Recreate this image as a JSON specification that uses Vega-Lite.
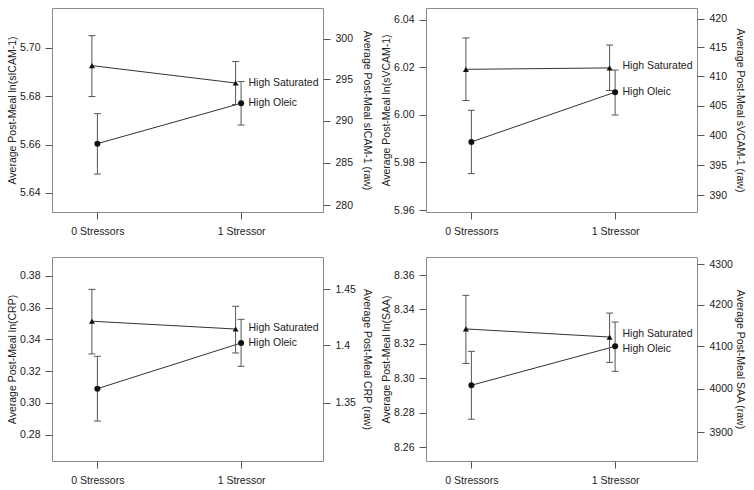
{
  "$schema": "https://vega.github.io/schema/vega-lite/v6.json",
  "background": "white",
  "padding": {"left": 7, "top": 7, "right": 0, "bottom": 0},
  "autosize": {"type": "pad"},
  "columns": 2,
  "spacing": {"row": 45, "column": 103},
  "bounds": "flush",
  "datasets": {
    "pts": [
      {"panel": "sICAM-1", "diet": "High Saturated", "stressors": 0, "mean": 5.6927, "lo": 5.6799, "hi": 5.7051},
      {"panel": "sICAM-1", "diet": "High Saturated", "stressors": 1, "mean": 5.6855, "lo": 5.6766, "hi": 5.6944},
      {"panel": "sICAM-1", "diet": "High Oleic", "stressors": 0, "mean": 5.6604, "lo": 5.6478, "hi": 5.6728},
      {"panel": "sICAM-1", "diet": "High Oleic", "stressors": 1, "mean": 5.6771, "lo": 5.6681, "hi": 5.6861},
      {"panel": "sVCAM-1", "diet": "High Saturated", "stressors": 0, "mean": 6.0191, "lo": 6.0060, "hi": 6.0323},
      {"panel": "sVCAM-1", "diet": "High Saturated", "stressors": 1, "mean": 6.0197, "lo": 6.0102, "hi": 6.0293},
      {"panel": "sVCAM-1", "diet": "High Oleic", "stressors": 0, "mean": 5.9886, "lo": 5.9753, "hi": 6.0019},
      {"panel": "sVCAM-1", "diet": "High Oleic", "stressors": 1, "mean": 6.0095, "lo": 5.9999, "hi": 6.0188},
      {"panel": "CRP", "diet": "High Saturated", "stressors": 0, "mean": 0.3515, "lo": 0.3309, "hi": 0.3716},
      {"panel": "CRP", "diet": "High Saturated", "stressors": 1, "mean": 0.3466, "lo": 0.3315, "hi": 0.3609},
      {"panel": "CRP", "diet": "High Oleic", "stressors": 0, "mean": 0.3090, "lo": 0.2886, "hi": 0.3294},
      {"panel": "CRP", "diet": "High Oleic", "stressors": 1, "mean": 0.3378, "lo": 0.3231, "hi": 0.3527},
      {"panel": "SAA", "diet": "High Saturated", "stressors": 0, "mean": 8.3287, "lo": 8.3087, "hi": 8.3482},
      {"panel": "SAA", "diet": "High Saturated", "stressors": 1, "mean": 8.3240, "lo": 8.3093, "hi": 8.3379},
      {"panel": "SAA", "diet": "High Oleic", "stressors": 0, "mean": 8.2960, "lo": 8.2763, "hi": 8.3157},
      {"panel": "SAA", "diet": "High Oleic", "stressors": 1, "mean": 8.3186, "lo": 8.3041, "hi": 8.3327}
    ],
    "labs": [
      {"panel": "sICAM-1", "diet": "High Saturated", "stressors": 1, "labely": 5.6855},
      {"panel": "sICAM-1", "diet": "High Oleic", "stressors": 1, "labely": 5.6774},
      {"panel": "sVCAM-1", "diet": "High Saturated", "stressors": 1, "labely": 6.0203},
      {"panel": "sVCAM-1", "diet": "High Oleic", "stressors": 1, "labely": 6.0096},
      {"panel": "CRP", "diet": "High Saturated", "stressors": 1, "labely": 0.3470},
      {"panel": "CRP", "diet": "High Oleic", "stressors": 1, "labely": 0.3380},
      {"panel": "SAA", "diet": "High Saturated", "stressors": 1, "labely": 8.3258},
      {"panel": "SAA", "diet": "High Oleic", "stressors": 1, "labely": 8.3169}
    ]
  },
  "concat": [
    {
      "width": 271, "height": 204,
      "resolve": {"scale": {"y": "independent"}, "axis": {"y": "independent"}},
      "layer": [
        {
          "encoding": {
            "x": {"field": "stressors", "type": "quantitative", "scale": {"domain": [-0.316, 1.57], "nice": false, "zero": false}, "axis": {"values": [0, 1], "labelExpr": "datum.value == 0 ? '0 Stressors' : '1 Stressor'", "title": null}},
            "y": {"field": "mean", "type": "quantitative", "scale": {"domain": [5.63209, 5.71656], "nice": false, "zero": false}, "axis": {"values": [5.64, 5.66, 5.68, 5.70], "format": ".2f", "title": "Average Post-Meal ln(sICAM-1)", "titlePadding": 2}}
          },
          "layer": [
            {"data": {"name": "pts"}, "transform": [{"filter": "datum.panel == 'sICAM-1' && datum.diet == 'High Oleic'"}],
             "layer": [
               {"mark": {"type": "rule"}, "encoding": {"y": {"field": "lo", "type": "quantitative"}, "y2": {"field": "hi"}}},
               {"mark": {"type": "tick", "orient": "horizontal"}, "encoding": {"y": {"field": "lo", "type": "quantitative"}}},
               {"mark": {"type": "tick", "orient": "horizontal"}, "encoding": {"y": {"field": "hi", "type": "quantitative"}}},
               {"mark": {"type": "line"}},
               {"mark": {"type": "point", "shape": "circle"}}
             ]},
            {"data": {"name": "pts"}, "transform": [{"filter": "datum.panel == 'sICAM-1' && datum.diet == 'High Saturated'"}],
             "layer": [
               {"mark": {"type": "rule", "xOffset": -5.5}, "encoding": {"y": {"field": "lo", "type": "quantitative"}, "y2": {"field": "hi"}}},
               {"mark": {"type": "tick", "orient": "horizontal", "xOffset": -5.5}, "encoding": {"y": {"field": "lo", "type": "quantitative"}}},
               {"mark": {"type": "tick", "orient": "horizontal", "xOffset": -5.5}, "encoding": {"y": {"field": "hi", "type": "quantitative"}}},
               {"mark": {"type": "line", "xOffset": -5.5}},
               {"mark": {"type": "point", "shape": "triangle-up", "xOffset": -5.5}}
             ]},
            {"data": {"name": "labs"}, "transform": [{"filter": "datum.panel == 'sICAM-1'"}],
             "mark": {"type": "text", "align": "left", "baseline": "middle", "dx": 7.4},
             "encoding": {"y": {"field": "labely", "type": "quantitative"}, "text": {"field": "diet", "type": "nominal"}}}
          ]
        },
        {
          "data": {"values": [{}]},
          "mark": {"type": "rule", "opacity": 0},
          "encoding": {"y": {"datum": 300, "type": "quantitative", "scale": {"type": "log", "domain": [279.24, 303.86], "nice": false}, "axis": {"orient": "right", "values": [280, 285, 290, 295, 300], "labelExpr": "format(datum.value, '~g')", "title": "Average Post-Meal sICAM-1 (raw)", "titlePadding": 9}}}
        }
      ]
    },
    {
      "width": 271, "height": 204,
      "resolve": {"scale": {"y": "independent"}, "axis": {"y": "independent"}},
      "layer": [
        {
          "encoding": {
            "x": {"field": "stressors", "type": "quantitative", "scale": {"domain": [-0.316, 1.57], "nice": false, "zero": false}, "axis": {"values": [0, 1], "labelExpr": "datum.value == 0 ? '0 Stressors' : '1 Stressor'", "title": null}},
            "y": {"field": "mean", "type": "quantitative", "scale": {"domain": [5.95916, 6.04487], "nice": false, "zero": false}, "axis": {"values": [5.96, 5.98, 6.00, 6.02, 6.04], "format": ".2f", "title": "Average Post-Meal ln(sVCAM-1)", "titlePadding": 2}}
          },
          "layer": [
            {"data": {"name": "pts"}, "transform": [{"filter": "datum.panel == 'sVCAM-1' && datum.diet == 'High Oleic'"}],
             "layer": [
               {"mark": {"type": "rule"}, "encoding": {"y": {"field": "lo", "type": "quantitative"}, "y2": {"field": "hi"}}},
               {"mark": {"type": "tick", "orient": "horizontal"}, "encoding": {"y": {"field": "lo", "type": "quantitative"}}},
               {"mark": {"type": "tick", "orient": "horizontal"}, "encoding": {"y": {"field": "hi", "type": "quantitative"}}},
               {"mark": {"type": "line"}},
               {"mark": {"type": "point", "shape": "circle"}}
             ]},
            {"data": {"name": "pts"}, "transform": [{"filter": "datum.panel == 'sVCAM-1' && datum.diet == 'High Saturated'"}],
             "layer": [
               {"mark": {"type": "rule", "xOffset": -5.5}, "encoding": {"y": {"field": "lo", "type": "quantitative"}, "y2": {"field": "hi"}}},
               {"mark": {"type": "tick", "orient": "horizontal", "xOffset": -5.5}, "encoding": {"y": {"field": "lo", "type": "quantitative"}}},
               {"mark": {"type": "tick", "orient": "horizontal", "xOffset": -5.5}, "encoding": {"y": {"field": "hi", "type": "quantitative"}}},
               {"mark": {"type": "line", "xOffset": -5.5}},
               {"mark": {"type": "point", "shape": "triangle-up", "xOffset": -5.5}}
             ]},
            {"data": {"name": "labs"}, "transform": [{"filter": "datum.panel == 'sVCAM-1'"}],
             "mark": {"type": "text", "align": "left", "baseline": "middle", "dx": 7.4},
             "encoding": {"y": {"field": "labely", "type": "quantitative"}, "text": {"field": "diet", "type": "nominal"}}}
          ]
        },
        {
          "data": {"values": [{}]},
          "mark": {"type": "rule", "opacity": 0},
          "encoding": {"y": {"datum": 400, "type": "quantitative", "scale": {"type": "log", "domain": [387.28, 421.94], "nice": false}, "axis": {"orient": "right", "values": [390, 395, 400, 405, 410, 415, 420], "labelExpr": "format(datum.value, '~g')", "title": "Average Post-Meal sVCAM-1 (raw)", "titlePadding": 8}}}
        }
      ]
    },
    {
      "width": 271, "height": 204,
      "resolve": {"scale": {"y": "independent"}, "axis": {"y": "independent"}},
      "layer": [
        {
          "encoding": {
            "x": {"field": "stressors", "type": "quantitative", "scale": {"domain": [-0.316, 1.57], "nice": false, "zero": false}, "axis": {"values": [0, 1], "labelExpr": "datum.value == 0 ? '0 Stressors' : '1 Stressor'", "title": null}},
            "y": {"field": "mean", "type": "quantitative", "scale": {"domain": [0.26343, 0.39197], "nice": false, "zero": false}, "axis": {"values": [0.28, 0.30, 0.32, 0.34, 0.36, 0.38], "format": ".2f", "title": "Average Post-Meal ln(CRP)", "titlePadding": 2}}
          },
          "layer": [
            {"data": {"name": "pts"}, "transform": [{"filter": "datum.panel == 'CRP' && datum.diet == 'High Oleic'"}],
             "layer": [
               {"mark": {"type": "rule"}, "encoding": {"y": {"field": "lo", "type": "quantitative"}, "y2": {"field": "hi"}}},
               {"mark": {"type": "tick", "orient": "horizontal"}, "encoding": {"y": {"field": "lo", "type": "quantitative"}}},
               {"mark": {"type": "tick", "orient": "horizontal"}, "encoding": {"y": {"field": "hi", "type": "quantitative"}}},
               {"mark": {"type": "line"}},
               {"mark": {"type": "point", "shape": "circle"}}
             ]},
            {"data": {"name": "pts"}, "transform": [{"filter": "datum.panel == 'CRP' && datum.diet == 'High Saturated'"}],
             "layer": [
               {"mark": {"type": "rule", "xOffset": -5.5}, "encoding": {"y": {"field": "lo", "type": "quantitative"}, "y2": {"field": "hi"}}},
               {"mark": {"type": "tick", "orient": "horizontal", "xOffset": -5.5}, "encoding": {"y": {"field": "lo", "type": "quantitative"}}},
               {"mark": {"type": "tick", "orient": "horizontal", "xOffset": -5.5}, "encoding": {"y": {"field": "hi", "type": "quantitative"}}},
               {"mark": {"type": "line", "xOffset": -5.5}},
               {"mark": {"type": "point", "shape": "triangle-up", "xOffset": -5.5}}
             ]},
            {"data": {"name": "labs"}, "transform": [{"filter": "datum.panel == 'CRP'"}],
             "mark": {"type": "text", "align": "left", "baseline": "middle", "dx": 7.4},
             "encoding": {"y": {"field": "labely", "type": "quantitative"}, "text": {"field": "diet", "type": "nominal"}}}
          ]
        },
        {
          "data": {"values": [{}]},
          "mark": {"type": "rule", "opacity": 0},
          "encoding": {"y": {"datum": 1.4, "type": "quantitative", "scale": {"type": "log", "domain": [1.3014, 1.4799], "nice": false}, "axis": {"orient": "right", "values": [1.35, 1.4, 1.45], "labelExpr": "format(datum.value, '~g')", "title": "Average Post-Meal CRP (raw)", "titlePadding": 6}}}
        }
      ]
    },
    {
      "width": 271, "height": 204,
      "resolve": {"scale": {"y": "independent"}, "axis": {"y": "independent"}},
      "layer": [
        {
          "encoding": {
            "x": {"field": "stressors", "type": "quantitative", "scale": {"domain": [-0.316, 1.57], "nice": false, "zero": false}, "axis": {"values": [0, 1], "labelExpr": "datum.value == 0 ? '0 Stressors' : '1 Stressor'", "title": null}},
            "y": {"field": "mean", "type": "quantitative", "scale": {"domain": [8.25205, 8.37045], "nice": false, "zero": false}, "axis": {"values": [8.26, 8.28, 8.30, 8.32, 8.34, 8.36], "format": ".2f", "title": "Average Post-Meal ln(SAA)", "titlePadding": 2}}
          },
          "layer": [
            {"data": {"name": "pts"}, "transform": [{"filter": "datum.panel == 'SAA' && datum.diet == 'High Oleic'"}],
             "layer": [
               {"mark": {"type": "rule"}, "encoding": {"y": {"field": "lo", "type": "quantitative"}, "y2": {"field": "hi"}}},
               {"mark": {"type": "tick", "orient": "horizontal"}, "encoding": {"y": {"field": "lo", "type": "quantitative"}}},
               {"mark": {"type": "tick", "orient": "horizontal"}, "encoding": {"y": {"field": "hi", "type": "quantitative"}}},
               {"mark": {"type": "line"}},
               {"mark": {"type": "point", "shape": "circle"}}
             ]},
            {"data": {"name": "pts"}, "transform": [{"filter": "datum.panel == 'SAA' && datum.diet == 'High Saturated'"}],
             "layer": [
               {"mark": {"type": "rule", "xOffset": -5.5}, "encoding": {"y": {"field": "lo", "type": "quantitative"}, "y2": {"field": "hi"}}},
               {"mark": {"type": "tick", "orient": "horizontal", "xOffset": -5.5}, "encoding": {"y": {"field": "lo", "type": "quantitative"}}},
               {"mark": {"type": "tick", "orient": "horizontal", "xOffset": -5.5}, "encoding": {"y": {"field": "hi", "type": "quantitative"}}},
               {"mark": {"type": "line", "xOffset": -5.5}},
               {"mark": {"type": "point", "shape": "triangle-up", "xOffset": -5.5}}
             ]},
            {"data": {"name": "labs"}, "transform": [{"filter": "datum.panel == 'SAA'"}],
             "mark": {"type": "text", "align": "left", "baseline": "middle", "dx": 7.4},
             "encoding": {"y": {"field": "labely", "type": "quantitative"}, "text": {"field": "diet", "type": "nominal"}}}
          ]
        },
        {
          "data": {"values": [{}]},
          "mark": {"type": "rule", "opacity": 0},
          "encoding": {"y": {"datum": 4100, "type": "quantitative", "scale": {"type": "log", "domain": [3835.5, 4317.6], "nice": false}, "axis": {"orient": "right", "values": [3900, 4000, 4100, 4200, 4300], "labelExpr": "format(datum.value, '~g')", "title": "Average Post-Meal SAA (raw)", "titlePadding": 2}}}
        }
      ]
    }
  ],
  "config": {
    "font": "Liberation Sans",
    "view": {"stroke": "#8a8a8a", "strokeWidth": 1},
    "axis": {"grid": false, "domain": false, "tickColor": "#555", "tickSize": 7, "tickWidth": 1, "labelFont": "Liberation Sans", "labelFontSize": 10.5, "labelColor": "#222", "labelPadding": 5, "titleFont": "Liberation Sans", "titleFontSize": 10.5, "titleFontWeight": "normal", "titleColor": "#222", "labelFlush": false, "labelOverlap": false},
    "axisX": {"labelPadding": 7},
    "tick": {"size": 7, "thickness": 1, "color": "#555", "opacity": 1},
    "rule": {"color": "#555", "strokeWidth": 1},
    "line": {"color": "#333", "strokeWidth": 1},
    "point": {"filled": true, "color": "#111", "size": 36, "opacity": 1},
    "text": {"fontSize": 10.5, "color": "#222", "font": "Liberation Sans"}
  }
}
